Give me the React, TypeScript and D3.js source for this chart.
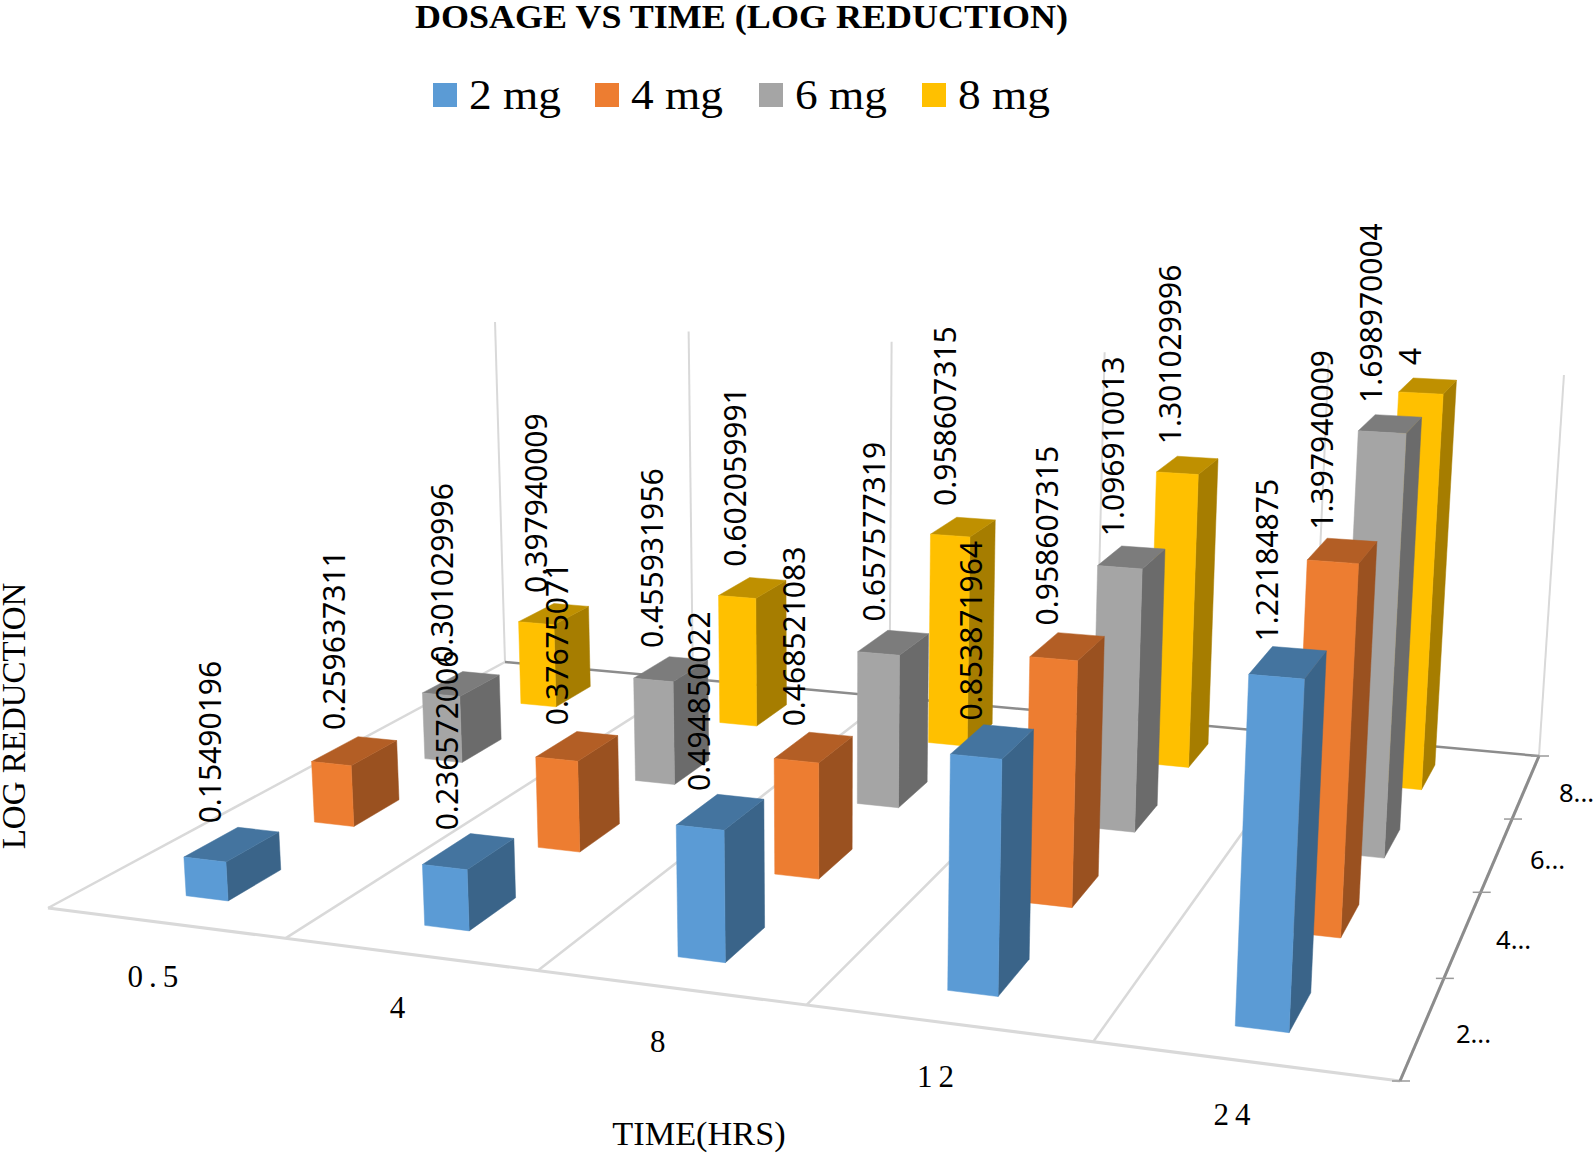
import React from 'react';
import * as d3 from 'd3';

// chart values
const times = ['0.5', '4', '8', '12', '24'];
const dosages = ['2 mg', '4 mg', '6 mg', '8 mg'];
const depthLabels = ['2...', '4...', '6...', '8...'];
const mg2 = ['0.15490196', '0.236572006', '0.494850022', '0.853871964', '1.22184875'];
const mg4 = ['0.259637311', '0.37675071', '0.468521083', '0.958607315', '1.397940009'];
const mg6 = ['0.301029996', '0.455931956', '0.657577319', '1.096910013', '1.698970004'];
const mg8 = ['0.397940009', '0.602059991', '0.958607315', '1.301029996', '4'];
const series = [mg2, mg4, mg6, mg8];

const faceColors = [
    { front: '#5B9BD5', top: '#44749F', side: '#3A6489' },
    { front: '#ED7D31', top: '#B35E25', side: '#9A5120' },
    { front: '#A5A5A5', top: '#7C7C7C', side: '#6B6B6B' },
    { front: '#FFC000', top: '#BF9000', side: '#A67D00' },
];

const WIDTH = 1594;
const HEIGHT = 1153;
const SANS = '"Noto Sans", sans-serif';
const SERIF = '"Liberation Serif", serif';

// Floor corners on screen: front-left, front-right, back-right, back-left
const [p0, p1, p2, p3] = [[48, 908], [1400, 1081], [1539, 756], [505, 662]];
const vanish = [827, 11634]; // where the verticals meet, below the picture
const wallTopY = 322; // top of the wall above the back-left corner

// Square to quad homography for the floor
const dx1 = p1[0] - p2[0], dx2 = p3[0] - p2[0], sx = p0[0] - p1[0] + p2[0] - p3[0];
const dy1 = p1[1] - p2[1], dy2 = p3[1] - p2[1], sy = p0[1] - p1[1] + p2[1] - p3[1];
const det = dx1 * dy2 - dx2 * dy1;
const g = (sx * dy2 - dx2 * sy) / det;
const h = (dx1 * sy - sx * dy1) / det;
const a = p1[0] - p0[0] + g * p1[0], b = p3[0] - p0[0] + h * p3[0];
const d = p1[1] - p0[1] + g * p1[1], e = p3[1] - p0[1] + h * p3[1];
// how strongly height pulls towards the vanishing point
const k = ((p3[1] - wallTopY) * (1 + h)) / (wallTopY - vanish[1]);

// u along time, v into depth, t up the value axis (all 0..1)
const project = (u: number, v: number, t = 0): [number, number] => {
    const w = g * u + h * v + 1 + t * k;
    return [
        (a * u + b * v + p0[0] + t * k * vanish[0]) / w,
        (d * u + e * v + p0[1] + t * k * vanish[1]) / w,
    ];
};

const xScale = d3.scaleBand<string>().domain(times).range([0, 1]).paddingInner(0.82).paddingOuter(0.41);
const zScale = d3.scaleBand<string>().domain(dosages).range([0, 1]).paddingInner(0.6).paddingOuter(0.3);
const yScale = d3.scaleLinear().domain([0, 1.7]).range([0, 1]).clamp(true);

const polygon = d3.line().curve(d3.curveLinearClosed);
const gridU = d3.range(times.length + 1).map(i => i / times.length);
const gridV = d3.range(dosages.length + 1).map(i => i / dosages.length);

function Bar({ time, dosage, value, colors }) {
    const u0 = xScale(time)!, u1 = u0 + xScale.bandwidth();
    const v0 = zScale(dosage)!, v1 = v0 + zScale.bandwidth();
    const t = yScale(+value);
    return (
        <g>
            <path d={polygon([project(u1, v0), project(u1, v1), project(u1, v1, t), project(u1, v0, t)])!} fill={colors.side} stroke={colors.side} strokeWidth={0.5} />
            <path d={polygon([project(u0, v0, t), project(u1, v0, t), project(u1, v1, t), project(u0, v1, t)])!} fill={colors.top} stroke={colors.top} strokeWidth={0.5} />
            <path d={polygon([project(u0, v0), project(u1, v0), project(u1, v0, t), project(u0, v0, t)])!} fill={colors.front} stroke={colors.front} strokeWidth={0.5} />
        </g>
    );
}

const legendX = [433, 595, 759, 922];

export default function App() {
    const line = (from: [number, number], to: [number, number], stroke: string, width: number, key: string) => (
        <line key={key} x1={from[0]} y1={from[1]} x2={to[0]} y2={to[1]} stroke={stroke} strokeWidth={width} />
    );
    // back rows first so the nearer bars cover them
    const rows = d3.range(dosages.length).reverse();

    return (
        <svg width={WIDTH} height={HEIGHT} style={{ position: 'absolute', left: 0, top: 0, background: '#fff' }}>
            <text x={415} y={28} fontFamily={SERIF} fontWeight="bold" fontSize={33} textLength={653} lengthAdjust="spacingAndGlyphs">
                DOSAGE VS TIME (LOG REDUCTION)
            </text>
            {dosages.map((name, i) => (
                <g key={name}>
                    <rect x={legendX[i]} y={83} width={24} height={24} fill={faceColors[i].front} />
                    <text x={legendX[i] + 36} y={109} fontFamily={SERIF} fontSize={43} textLength={92} lengthAdjust="spacingAndGlyphs">{name}</text>
                </g>
            ))}

            {/* Walls and floor */}
            {gridU.map(u => line(project(u, 1), project(u, 1, 1), '#D9D9D9', 2, `wall${u}`))}
            {gridU.map(u => line(project(u, 0), project(u, 1), '#D9D9D9', 2.5, `floor${u}`))}
            {line(project(0, 0), project(1, 0), '#D9D9D9', 3, 'front')}
            {line(project(0, 1), project(1, 1), '#8C8C8C', 2.5, 'back')}
            {line(project(1, 0), project(1, 1), '#8C8C8C', 3, 'right')}
            {gridV.map(v => {
                const [tx, ty] = project(1, v);
                return line([tx - 8, ty], [tx + 10, ty], '#9A9A9A', 1.5, `tick${v}`);
            })}

            {/* Bars */}
            {rows.map(r => times.map((time, i) => (
                <Bar key={`${r}-${time}`} time={time} dosage={dosages[r]} value={series[r][i]} colors={faceColors[r]} />
            )))}

            {/* Data labels sit above the middle of each top face */}
            {rows.map(r => times.map((time, i) => {
                const uc = xScale(time)! + xScale.bandwidth() / 2;
                const vc = zScale(dosages[r])! + zScale.bandwidth() / 2;
                const [tx, ty] = project(uc, vc, yScale(+series[r][i]));
                return (
                    <text key={`${r}-${time}`} transform={`translate(${tx - 22 + 5 * vc},${ty - 21}) rotate(-90)`} dy="0.36em"
                        fontFamily={SANS} fontSize={30}>
                        {series[r][i]}
                    </text>
                );
            }))}

            {/* Axis labels */}
            {times.map(time => {
                const [tx, ty] = project(xScale(time)! + xScale.bandwidth() / 2, 0);
                return (
                    <text key={time} x={tx - 9} y={ty + 64} textAnchor="middle" fontFamily={SERIF} fontSize={31} letterSpacing={6}>{time}</text>
                );
            })}
            {depthLabels.map((label, i) => {
                const [tx, ty] = project(1, zScale(dosages[i])! + zScale.bandwidth() / 2);
                return (
                    <text key={label} x={tx + 33} y={ty + 6} dy="0.36em" fontFamily={SANS} fontSize={25.5}>{label}</text>
                );
            })}
            <text x={699} y={1145} textAnchor="middle" fontFamily={SERIF} fontSize={34.3}>TIME(HRS)</text>
            <text transform="translate(25,716) rotate(-90)" textAnchor="middle" fontFamily={SERIF} fontSize={33}>LOG REDUCTION</text>
        </svg>
    );
}
